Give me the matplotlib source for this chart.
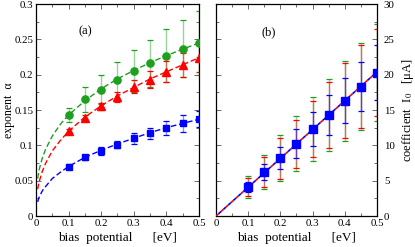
import matplotlib
matplotlib.use('Agg')
import matplotlib.pyplot as plt
from matplotlib.ticker import MultipleLocator

plt.rcParams['font.family'] = ['Liberation Serif', 'DejaVu Serif']
plt.rcParams['mathtext.fontset'] = 'stix'

GREEN = '#1ea01e'
RED = '#ff0000'
BLUE = '#0000ff'

# bias values of the measured points
bias = [0.1, 0.15, 0.2, 0.25, 0.3, 0.35, 0.4, 0.45, 0.5]

# panel (a): exponent alpha
alpha_green = [0.143, 0.165, 0.179, 0.192, 0.205, 0.216, 0.227, 0.237, 0.245]
alpha_green_err = [0.010, 0.018, 0.021, 0.026, 0.030, 0.033, 0.037, 0.040, 0.045]
alpha_red = [0.120, 0.139, 0.155, 0.168, 0.183, 0.193, 0.204, 0.214, 0.224]
alpha_red_err = [0.003, 0.004, 0.0055, 0.007, 0.0095, 0.012, 0.015, 0.017, 0.020]
alpha_blue = [0.070, 0.083, 0.092, 0.101, 0.110, 0.117, 0.124, 0.131, 0.137]
alpha_blue_err = [0.003, 0.004, 0.005, 0.005, 0.0075, 0.008, 0.010, 0.0115, 0.011]

# dashed fit curves in (a)
fit_x = [0.005, 0.01, 0.02, 0.03, 0.05, 0.075, 0.1, 0.15, 0.2, 0.25, 0.3, 0.35, 0.4, 0.45, 0.5]
fit_green = [0.053, 0.066, 0.083, 0.095, 0.113, 0.130, 0.143, 0.163, 0.180, 0.194, 0.206, 0.217, 0.227, 0.236, 0.245]
fit_red = [0.038, 0.049, 0.064, 0.075, 0.092, 0.107, 0.120, 0.140, 0.156, 0.170, 0.182, 0.194, 0.204, 0.214, 0.224]
fit_blue = [0.020, 0.027, 0.036, 0.042, 0.053, 0.062, 0.070, 0.083, 0.093, 0.102, 0.110, 0.118, 0.125, 0.131, 0.137]

# panel (b): coefficient I0
i0 = [4.1, 6.2, 8.2, 10.25, 12.3, 14.3, 16.3, 18.3, 20.3]
i0_green_err = [1.6, 2.4, 3.2, 3.9, 4.5, 5.1, 5.7, 6.2, 6.8]
i0_red_err = [1.3, 2.1, 2.9, 3.4, 4.0, 4.7, 5.3, 5.85, 6.2]
i0_blue_err = [0.75, 1.1, 1.6, 2.05, 2.45, 2.8, 3.2, 3.5, 3.9]
line_x = [0.0, 0.5]
line_i0 = [0.0, 20.4]

fig = plt.figure(figsize=(4.15, 2.47), dpi=100)
ax1 = fig.add_axes([0.0867, 0.1255, 0.3928, 0.8583])
ax2 = fig.add_axes([0.5205, 0.1255, 0.3879, 0.8583])


def errs(ax, y, e, color, marker, ms, z):
    eb = ax.errorbar(bias, y, yerr=e, ecolor=color, fmt='none', capsize=2.5,
                     elinewidth=1.0, capthick=0.9, zorder=z)
    for c in eb[2]:
        c.set_alpha(0.45)
    if marker:
        ax.plot(bias, y, linestyle='none', marker=marker, ms=ms, color=color,
                zorder=z + 2)


# (a)
ax1.plot(fit_x, fit_green, color=GREEN, lw=1.0, dashes=(4, 2), zorder=3)
ax1.plot(fit_x, fit_red, color=RED, lw=1.0, dashes=(4, 2), zorder=3)
ax1.plot(fit_x, fit_blue, color=BLUE, lw=1.0, dashes=(4, 2), zorder=3)
errs(ax1, alpha_green, alpha_green_err, GREEN, 'o', 5.2, 2)
errs(ax1, alpha_red, alpha_red_err, RED, '^', 5.2, 2)
errs(ax1, alpha_blue, alpha_blue_err, BLUE, 's', 4.5, 2)
ax1.set_xlim(0, 0.5)
ax1.set_ylim(0, 0.3)
ax1.yaxis.set_major_locator(MultipleLocator(0.05))
ax1.yaxis.set_minor_locator(MultipleLocator(0.025))
ax1.yaxis.set_major_formatter(plt.FuncFormatter(lambda v, p: '0' if v == 0 else ('%g' % round(v, 3))))
ax1.set_ylabel('exponent  α', fontsize=8.5)
ax1.yaxis.set_label_coords(-0.128, 0.5)
ax1.text(0.13, 0.257, '(a)', fontsize=9)

# (b)
errs(ax2, i0, i0_green_err, GREEN, None, 0, 2)
errs(ax2, i0, i0_red_err, RED, None, 0, 2)
errs(ax2, i0, i0_blue_err, BLUE, None, 0, 2)
ax2.plot(line_x, line_i0, color=RED, lw=1.2, dashes=(2, 2), zorder=3)
ax2.plot(line_x, line_i0, color=BLUE, lw=1.2, linestyle=(2, (2, 2)), zorder=3)
ax2.plot(bias, i0, linestyle='none', marker='s', ms=5.2, color=BLUE, zorder=5)
ax2.set_xlim(0, 0.5)
ax2.set_ylim(0, 30)
ax2.yaxis.set_major_locator(MultipleLocator(5))
ax2.yaxis.set_minor_locator(MultipleLocator(2.5))
ax2.yaxis.tick_right()
ax2.yaxis.set_label_position('right')
ax2.set_ylabel('coefficient  I$_0$   [μA]', fontsize=9, labelpad=4)
ax2.text(0.14, 25.6, '(b)', fontsize=9)

for ax in (ax1, ax2):
    ax.xaxis.set_major_locator(MultipleLocator(0.1))
    ax.xaxis.set_minor_locator(MultipleLocator(0.05))
    ax.xaxis.set_major_formatter(plt.FuncFormatter(lambda v, p: '0' if v == 0 else '%g' % round(v, 2)))
    ax.tick_params(which='both', direction='in', top=True, bottom=True,
                   left=True, right=True, labelsize=7.8, pad=2)
    ax.tick_params(which='major', length=3.5, width=0.6, color='#555555')
    ax.tick_params(which='minor', length=2, width=0.6, color='#555555')
    ax.set_xlabel('bias  potential      [eV]', fontsize=9.5, labelpad=3)
    for s in ax.spines.values():
        s.set_linewidth(0.9)
ax2.tick_params(which='both', labelleft=False, labelright=True)
ax2.tick_params(axis='y', pad=5)

fig.savefig('out.png', dpi=100)
